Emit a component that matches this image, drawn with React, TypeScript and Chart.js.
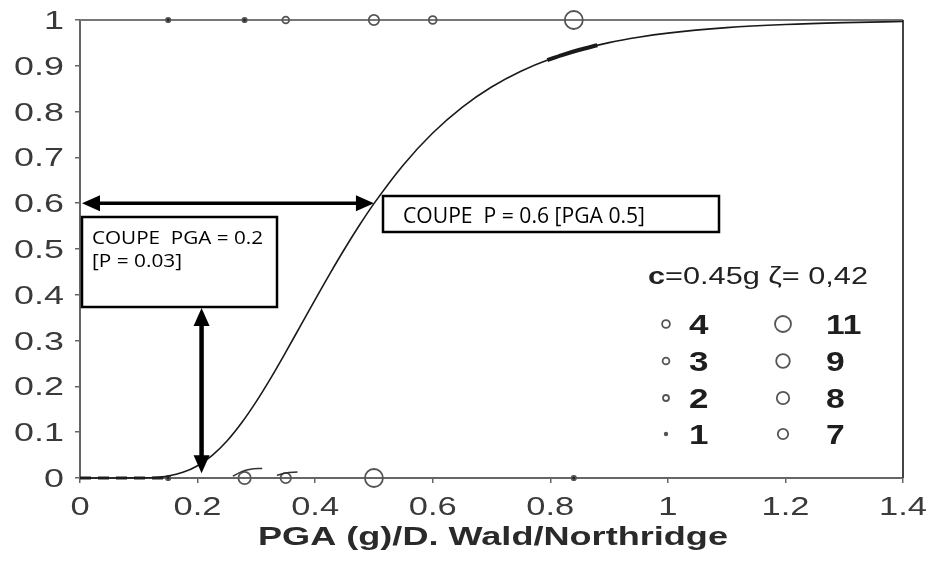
import { useEffect, useRef } from "react";
import { Chart, registerables } from "chart.js";

Chart.register(...registerables);

// ---------- data ----------
const curvePGA = [0, 0.05, 0.1, 0.125, 0.15, 0.175, 0.2, 0.225, 0.25, 0.275, 0.3, 0.325, 0.35, 0.375, 0.4, 0.425, 0.45, 0.475, 0.5, 0.55, 0.6, 0.65, 0.7, 0.75, 0.8, 0.85, 0.9, 0.95, 1.0, 1.1, 1.2, 1.3, 1.4];
const curveP = [0, 0, 0.0002, 0.0011, 0.0044, 0.0123, 0.0268, 0.0494, 0.0808, 0.1205, 0.1672, 0.2192, 0.2748, 0.3321, 0.3896, 0.4459, 0.5, 0.5512, 0.599, 0.6836, 0.7533, 0.8094, 0.8536, 0.888, 0.9147, 0.935, 0.9506, 0.9624, 0.9714, 0.9833, 0.9902, 0.9942, 0.9966];

const thickPGA = [0.795, 0.82, 0.85, 0.88];
const thickP = [0.9123, 0.9234, 0.935, 0.9449];

const basePGA = [0, 0.15];
const baseP = [0, 0];

const squiggleAPGA = [0.26, 0.275, 0.29, 0.31];
const squiggleAP = [0.004, 0.014, 0.019, 0.021];
const squiggleBPGA = [0.335, 0.35, 0.37];
const squiggleBP = [0.006, 0.011, 0.013];

const topPGA = [0.15, 0.28, 0.35, 0.5, 0.6, 0.84];
const topCounts = [1, 1, 3, 7, 4, 11];
const bottomPGA = [0.15, 0.28, 0.35, 0.5, 0.84];
const bottomCounts = [1, 8, 7, 11, 1];

const legendLeft = [4, 3, 2, 1];
const legendRight = [11, 9, 8, 7];
const legendTitleBold = "c";
const legendTitleRest = "=0.45g \u03b6= 0,42";

const xTickValues = [0, 0.2, 0.4, 0.6, 0.8, 1, 1.2, 1.4];
const xTickLabels = ["0", "0.2", "0.4", "0.6", "0.8", "1", "1.2", "1.4"];
const yTickValues = [0, 0.1, 0.2, 0.3, 0.4, 0.5, 0.6, 0.7, 0.8, 0.9, 1];
const yTickLabels = ["0", "0.1", "0.2", "0.3", "0.4", "0.5", "0.6", "0.7", "0.8", "0.9", "1"];

const xTitle = "PGA (g)/D. Wald/Northridge";
const cutP = 0.6;
const cutPGAatP = 0.5;
const cutPGA = 0.2;
const cutPatPGA = 0.03;
const boxText1 = "COUPE  P = 0.6 [PGA 0.5]";
const boxText2a = "COUPE  PGA = 0.2";
const boxText2b = "[P = 0.03]";

// ---------- styles ----------
const radiusFor: Record<number, number> = { 1: 2.2, 2: 3, 3: 3.4, 4: 3.9, 7: 5.2, 8: 6.2, 9: 6.8, 11: 9 };
const AXIS = "#666";
const TXT = "#3a3a3a";

function stretchText(ctx: CanvasRenderingContext2D, text: string, x: number, y: number, font: string, sx: number, align: "left" | "center" | "right", color: string) {
  ctx.save();
  ctx.font = font;
  ctx.fillStyle = color;
  ctx.textBaseline = "alphabetic";
  ctx.textAlign = "left";
  const w = ctx.measureText(text).width * sx;
  const x0 = align === "left" ? x : align === "center" ? x - w / 2 : x - w;
  ctx.translate(x0, y);
  ctx.scale(sx, 1);
  ctx.fillText(text, 0, 0);
  ctx.restore();
}

function fitText(ctx: CanvasRenderingContext2D, text: string, x: number, y: number, font: string, width: number, color: string) {
  ctx.save();
  ctx.font = font;
  const sx = width / ctx.measureText(text).width;
  ctx.restore();
  stretchText(ctx, text, x, y, font, sx, "left", color);
}

function arrowHead(ctx: CanvasRenderingContext2D, tx: number, ty: number, dx: number, dy: number) {
  const L = 18, W = 8;
  const bx = tx - dx * L, by = ty - dy * L;
  ctx.beginPath();
  ctx.moveTo(tx, ty);
  ctx.lineTo(bx - dy * W, by + dx * W);
  ctx.lineTo(bx + dy * W, by - dx * W);
  ctx.closePath();
  ctx.fill();
}

function doubleArrow(ctx: CanvasRenderingContext2D, x1: number, y1: number, x2: number, y2: number, lw: number) {
  const len = Math.hypot(x2 - x1, y2 - y1);
  const dx = (x2 - x1) / len, dy = (y2 - y1) / len;
  ctx.save();
  ctx.strokeStyle = "#000";
  ctx.fillStyle = "#000";
  ctx.lineWidth = lw;
  ctx.beginPath();
  ctx.moveTo(x1 + dx * 10, y1 + dy * 10);
  ctx.lineTo(x2 - dx * 10, y2 - dy * 10);
  ctx.stroke();
  arrowHead(ctx, x2, y2, dx, dy);
  arrowHead(ctx, x1, y1, -dx, -dy);
  ctx.restore();
}

const decorPlugin = {
  id: "decor",
  beforeDatasetsDraw(chart: any) {
    const { ctx, chartArea: a } = chart;
    ctx.save();
    ctx.strokeStyle = "#777";
    ctx.lineWidth = 2;
    ctx.beginPath();
    ctx.moveTo(a.left, a.top);
    ctx.lineTo(a.right, a.top);
    ctx.stroke();
    ctx.strokeStyle = "#444";
    ctx.beginPath();
    ctx.moveTo(a.right, a.top);
    ctx.lineTo(a.right, a.bottom);
    ctx.stroke();
    ctx.restore();
  },
  afterDraw(chart: any) {
    const { ctx, scales } = chart;
    const xs = scales.x, ys = scales.y;
    const X = (v: number) => xs.getPixelForValue(v);
    const Y = (v: number) => ys.getPixelForValue(v);
    const tickFont = "25px 'Liberation Sans', Arial, sans-serif";

    // tick labels
    xTickValues.forEach((v, i) => stretchText(ctx, xTickLabels[i], X(v), 515, tickFont, 1.38, "center", TXT));
    yTickValues.forEach((v, i) => stretchText(ctx, yTickLabels[i], 64, Y(v) + 9, "26px 'Liberation Sans', Arial, sans-serif", 1.38, "right", TXT));

    // axis title
    fitText(ctx, xTitle, 258, 545, "bold 26px 'Liberation Sans', Arial, sans-serif", 470, "#2a2a2a");

    // legend title
    ctx.save();
    const fb = "bold 24px 'Liberation Sans', Arial, sans-serif";
    const fr = "24px 'Liberation Sans', Arial, sans-serif";
    ctx.font = fb;
    const wb = ctx.measureText(legendTitleBold).width;
    ctx.font = fr;
    const wr = ctx.measureText(legendTitleRest).width;
    ctx.restore();
    const s = 220 / (wb + wr);
    stretchText(ctx, legendTitleBold, 648, 284, fb, s, "left", "#222");
    stretchText(ctx, legendTitleRest, 648 + wb * s, 284, fr, s, "left", "#222");

    // legend rows
    const rowBase = [334, 371, 408, 444];
    const numFont = "bold 28px 'Liberation Sans', Arial, sans-serif";
    const drawMarker = (cx: number, cy: number, n: number) => {
      ctx.save();
      ctx.beginPath();
      ctx.arc(cx, cy, n === 11 ? 8 : radiusFor[n], 0, Math.PI * 2);
      if (n === 1) {
        ctx.fillStyle = "#555";
        ctx.fill();
      } else {
        ctx.strokeStyle = "#555";
        ctx.lineWidth = 1.8;
        ctx.stroke();
      }
      ctx.restore();
    };
    legendLeft.forEach((n, i) => {
      drawMarker(666, rowBase[i] - 10, n);
      stretchText(ctx, String(n), 689, rowBase[i], numFont, 1.25, "left", "#1e1e1e");
    });
    legendRight.forEach((n, i) => {
      drawMarker(783, rowBase[i] - 10, n);
      stretchText(ctx, String(n), 826, rowBase[i], numFont, 1.2, "left", "#1e1e1e");
    });

    // annotation boxes
    ctx.save();
    ctx.lineWidth = 2.5;
    ctx.strokeStyle = "#000";
    ctx.fillStyle = "#fff";
    const b1 = { l: 383, t: 196, r: 719, b: 232 };
    ctx.fillRect(b1.l, b1.t, b1.r - b1.l, b1.b - b1.t);
    ctx.strokeRect(b1.l, b1.t, b1.r - b1.l, b1.b - b1.t);
    const b2 = { l: 82, t: 217, r: 277, b: 307 };
    ctx.fillRect(b2.l, b2.t, b2.r - b2.l, b2.b - b2.t);
    ctx.strokeRect(b2.l, b2.t, b2.r - b2.l, b2.b - b2.t);
    ctx.restore();
    fitText(ctx, boxText1, 403, 223, "21px 'Open Sans', Lato, sans-serif", 242, "#000");
    fitText(ctx, boxText2a, 92, 244, "18px 'Open Sans', Lato, sans-serif", 171, "#000");
    fitText(ctx, boxText2b, 92, 267, "18px 'Open Sans', Lato, sans-serif", 90, "#000");

    // arrows
    doubleArrow(ctx, X(0) + 2, Y(cutP), X(cutPGAatP), Y(cutP), 3.5);
    doubleArrow(ctx, X(cutPGA) + 4, b2.b + 1, X(cutPGA) + 4, Y(cutPatPGA) + 9, 4.5);
  },
};

const pts = (xs: number[], ys: number[]) => xs.map((x, i) => ({ x, y: ys[i] }));

export default function App() {
  const ref = useRef<HTMLCanvasElement>(null);
  useEffect(() => {
    document.body.style.margin = "0";
    const canvas = ref.current!;
    const markerDs = (xs: number[], y: number, counts: number[]) => ({
      data: xs.map((x) => ({ x, y })),
      showLine: false,
      clip: false,
      pointRadius: (c: any) => radiusFor[counts[c.dataIndex]],
      pointHoverRadius: (c: any) => radiusFor[counts[c.dataIndex]],
      pointBorderColor: "#555",
      pointBorderWidth: 1.8,
      pointBackgroundColor: (c: any) => (counts[c.dataIndex] === 1 ? "#222" : "rgba(0,0,0,0)"),
    });
    const lineDs = (data: any[], width: number, extra: any = {}) => ({
      data,
      showLine: true,
      clip: false,
      borderColor: "#1a1a1a",
      borderWidth: width,
      pointRadius: 0,
      cubicInterpolationMode: "monotone",
      ...extra,
    });
    const chart = new Chart(canvas, {
      type: "scatter",
      data: {
        datasets: [
          lineDs(pts(curvePGA, curveP), 1.6),
          lineDs(pts(thickPGA, thickP), 4),
          lineDs(pts(basePGA, baseP), 3, { borderDash: [11, 7], borderColor: "#222" }),
          lineDs(pts(squiggleAPGA, squiggleAP), 1.5, { borderColor: "#333" }),
          lineDs(pts(squiggleBPGA, squiggleBP), 1.5, { borderColor: "#333" }),
          markerDs(topPGA, 1, topCounts),
          markerDs(bottomPGA, 0, bottomCounts),
        ] as any,
      },
      options: {
        responsive: false,
        devicePixelRatio: 1,
        animation: false,
        events: [],
        layout: { padding: { top: 20, right: 30, left: 0, bottom: 0 } },
        plugins: { legend: { display: false }, tooltip: { enabled: false } },
        scales: {
          x: {
            type: "linear",
            min: 0,
            max: 1.4,
            afterBuildTicks: (s: any) => {
              s.ticks = xTickValues.map((v) => ({ value: v }));
            },
            afterFit: (s: any) => {
              s.height = 87;
            },
            ticks: { display: false },
            grid: { display: true, drawOnChartArea: false, drawTicks: true, tickLength: 5, color: AXIS, lineWidth: 1.5 },
            border: { display: true, color: AXIS, width: 2 },
          },
          y: {
            type: "linear",
            min: 0,
            max: 1,
            afterBuildTicks: (s: any) => {
              s.ticks = yTickValues.map((v) => ({ value: v }));
            },
            afterFit: (s: any) => {
              s.width = 80;
            },
            ticks: { display: false },
            grid: { display: true, drawOnChartArea: false, drawTicks: true, tickLength: 5, color: AXIS, lineWidth: 1.5 },
            border: { display: true, color: AXIS, width: 2 },
          },
        },
      } as any,
      plugins: [decorPlugin],
    });
    return () => chart.destroy();
  }, []);
  return (
    <div style={{ width: 933, height: 565 }}>
      <canvas ref={ref} width={933} height={565} style={{ display: "block" }} />
    </div>
  );
}
